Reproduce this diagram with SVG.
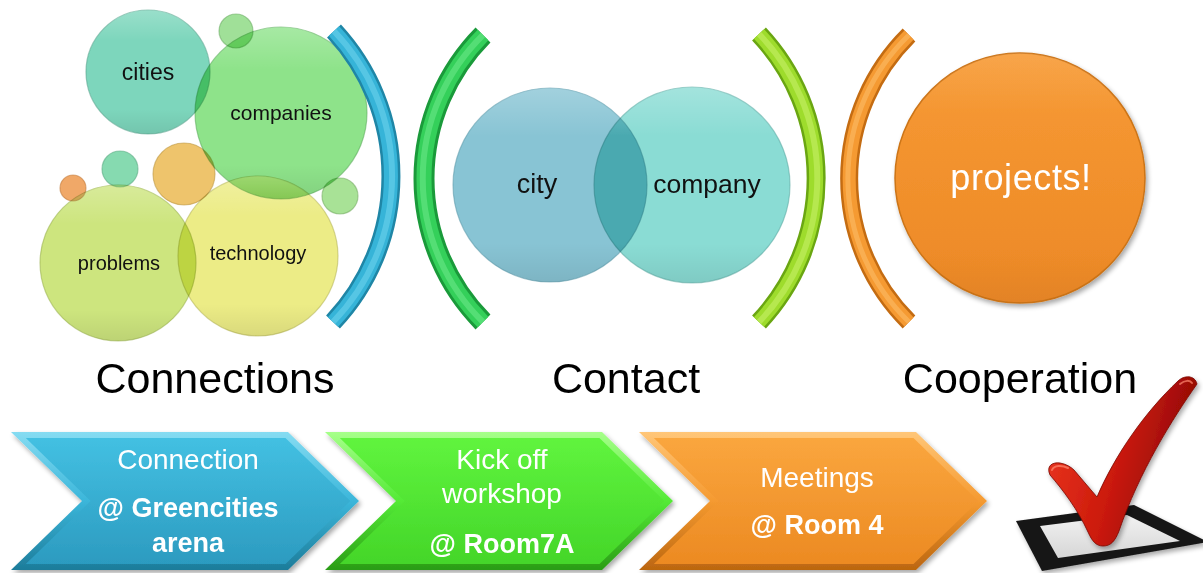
<svg xmlns="http://www.w3.org/2000/svg" width="1203" height="573" viewBox="0 0 1203 573">
<defs>
<style>
.bub{mix-blend-mode:multiply;stroke-width:1.2;stroke-opacity:0.55}
.lbl{font-family:"Liberation Sans",Arial,sans-serif;fill:#111;text-anchor:middle}
.big{font-family:"Liberation Sans",Arial,sans-serif;font-size:43px;fill:#000;text-anchor:middle}
.wt{font-family:"Liberation Sans",Arial,sans-serif;fill:#fff;text-anchor:middle;font-size:28px}
.wb{font-family:"Liberation Sans",Arial,sans-serif;fill:#fff;text-anchor:middle;font-size:27px;font-weight:bold}
.arc{fill:none;stroke-linecap:butt}
</style>
<filter id="sh" x="-10%" y="-10%" width="130%" height="140%">
<feGaussianBlur in="SourceAlpha" stdDeviation="2.5"/>
<feOffset dx="1.5" dy="3" result="b"/>
<feComponentTransfer><feFuncA type="linear" slope="0.35"/></feComponentTransfer>
<feMerge><feMergeNode/><feMergeNode in="SourceGraphic"/></feMerge>
</filter>
<linearGradient id="gloss" x1="0" y1="0" x2="0" y2="1">
<stop offset="0" stop-color="#fff" stop-opacity="0.22"/>
<stop offset="0.25" stop-color="#fff" stop-opacity="0"/>
<stop offset="0.8" stop-color="#000" stop-opacity="0"/>
<stop offset="1" stop-color="#000" stop-opacity="0.08"/>
</linearGradient>
<linearGradient id="gProj" x1="0" y1="0" x2="0" y2="1">
<stop offset="0" stop-color="#f79a34"/>
<stop offset="1" stop-color="#ec8826"/>
</linearGradient>
<linearGradient id="bE" x1="0" y1="0" x2="0" y2="1"><stop offset="0" stop-color="#86dcf2"/><stop offset="0.5" stop-color="#3bb6da"/><stop offset="1" stop-color="#1d7c9a"/></linearGradient>
<linearGradient id="bM" x1="0" y1="0" x2="0" y2="1"><stop offset="0" stop-color="#43c0e2"/><stop offset="1" stop-color="#2c9bc0"/></linearGradient>
<linearGradient id="gE" x1="0" y1="0" x2="0" y2="1"><stop offset="0" stop-color="#a6ff8a"/><stop offset="0.5" stop-color="#54ea36"/><stop offset="1" stop-color="#2a9c16"/></linearGradient>
<linearGradient id="gM" x1="0" y1="0" x2="0" y2="1"><stop offset="0" stop-color="#60f43e"/><stop offset="1" stop-color="#44d629"/></linearGradient>
<linearGradient id="oE" x1="0" y1="0" x2="0" y2="1"><stop offset="0" stop-color="#ffc678"/><stop offset="0.5" stop-color="#f59a30"/><stop offset="1" stop-color="#bb6610"/></linearGradient>
<linearGradient id="oM" x1="0" y1="0" x2="0" y2="1"><stop offset="0" stop-color="#faa63e"/><stop offset="1" stop-color="#ec8a22"/></linearGradient>
<linearGradient id="red" x1="0" y1="0" x2="1" y2="0.3">
<stop offset="0" stop-color="#ee3a22"/>
<stop offset="0.55" stop-color="#cc1a0c"/>
<stop offset="1" stop-color="#8e0804"/>
</linearGradient>
<linearGradient id="boxIn" x1="0" y1="0" x2="0" y2="1"><stop offset="0" stop-color="#f2f2f2"/><stop offset="1" stop-color="#d6d6d6"/></linearGradient>
<polygon id="chevO" points="11,432 288,432 359,501 288,570 11,570 82,501"/>
<polygon id="chevI" points="25.8,438 285.5,438 350.3,501 285.5,564 25.8,564 90.6,501"/>
</defs>

<rect width="1203" height="573" fill="#fff"/>

<!-- left cluster -->
<g id="node-cities"><circle class="bub" cx="148" cy="72" r="62" fill="#7dd6bc" stroke="#4f9e86"/><circle cx="148" cy="72" r="62" fill="url(#gloss)"/><text class="lbl" x="148" y="80" font-size="23">cities</text></g>
<g id="node-companies"><circle class="bub" cx="281" cy="113" r="86" fill="#8ee38a" stroke="#58a858"/><circle cx="281" cy="113" r="86" fill="url(#gloss)"/><text class="lbl" x="281" y="120" font-size="21">companies</text></g>
<g id="bubble-top"><circle class="bub" cx="236" cy="31" r="17" fill="#a0e098" stroke="#6aaa62"/></g>
<g id="bubble-left"><circle class="bub" cx="120" cy="169" r="18" fill="#86dab0" stroke="#58a880"/></g>
<g id="bubble-orange"><circle class="bub" cx="73" cy="188" r="13" fill="#f0a868" stroke="#c07838"/></g>
<g id="bubble-tan"><circle class="bub" cx="184" cy="174" r="31" fill="#eec46c" stroke="#b8923a"/></g>
<g id="bubble-right"><circle class="bub" cx="340" cy="196" r="18" fill="#a8e296" stroke="#72aa60"/></g>
<g id="node-problems"><circle class="bub" cx="118" cy="263" r="78" fill="#cde57e" stroke="#98ae4a"/><circle cx="118" cy="263" r="78" fill="url(#gloss)"/><text class="lbl" x="119" y="270" font-size="20">problems</text></g>
<g id="node-technology"><circle class="bub" cx="258" cy="256" r="80" fill="#ecec86" stroke="#b2b254"/><circle cx="258" cy="256" r="80" fill="url(#gloss)"/><text class="lbl" x="258" y="260" font-size="20">technology</text></g>

<!-- brackets -->
<g id="brackets">
<g id="arc-blue"><path class="arc" d="M334,31 A213,213 0 0 1 333,322" stroke="#1f86a6" stroke-width="19"/><path class="arc" d="M334,31 A213,213 0 0 1 333,322" stroke="#36b4d8" stroke-width="14"/><path class="arc" d="M334,31 A210,210 0 0 1 333,322" stroke="#7fdcf4" stroke-width="6" stroke-opacity="0.45"/></g>
<g id="arc-green"><path class="arc" d="M483,35 A204,204 0 0 0 483,322" stroke="#1a9a3a" stroke-width="21"/><path class="arc" d="M483,35 A204,204 0 0 0 483,322" stroke="#34d05a" stroke-width="15"/><path class="arc" d="M483,35 A201,201 0 0 0 483,322" stroke="#7cf096" stroke-width="6" stroke-opacity="0.45"/></g>
<g id="arc-lime"><path class="arc" d="M759,34 A210,210 0 0 1 759,322" stroke="#6aa612" stroke-width="19"/><path class="arc" d="M759,34 A210,210 0 0 1 759,322" stroke="#9edc2c" stroke-width="14"/><path class="arc" d="M759,34 A207,207 0 0 1 759,322" stroke="#d2f67a" stroke-width="6" stroke-opacity="0.45"/></g>
<g id="arc-orange"><path class="arc" d="M909,35 A202,202 0 0 0 909,322" stroke="#c46c12" stroke-width="18"/><path class="arc" d="M909,35 A202,202 0 0 0 909,322" stroke="#f59a32" stroke-width="13"/><path class="arc" d="M909,35 A199,199 0 0 0 909,322" stroke="#ffc878" stroke-width="5" stroke-opacity="0.45"/></g>
</g>

<!-- middle venn -->
<g id="node-city"><circle class="bub" cx="550" cy="185" r="97" fill="#88c4d4" stroke="#5a98a8"/><circle cx="550" cy="185" r="97" fill="url(#gloss)"/><text class="lbl" x="537" y="193" font-size="27">city</text></g>
<g id="node-company"><circle class="bub" cx="692" cy="185" r="98" fill="#8adcd4" stroke="#5aa8a0"/><circle cx="692" cy="185" r="98" fill="url(#gloss)"/><text class="lbl" x="707" y="193" font-size="26.5">company</text></g>

<!-- projects -->
<g id="node-projects" filter="url(#sh)"><circle cx="1020" cy="178" r="125" fill="url(#gProj)" stroke="#cc7418" stroke-width="1.5"/><circle cx="1020" cy="178" r="125" fill="url(#gloss)" opacity="0.5"/><text x="1021" y="190" font-family="Liberation Sans, Arial, sans-serif" font-size="36" fill="#fff" text-anchor="middle" letter-spacing="0.6">projects!</text></g>

<!-- headings -->
<g id="headings">
<text class="big" x="215" y="393">Connections</text>
<text class="big" x="626" y="393">Contact</text>
<text class="big" x="1020" y="393">Cooperation</text>
</g>

<!-- chevrons -->
<g id="step-connection" filter="url(#sh)">
<use href="#chevO" fill="url(#bE)"/><use href="#chevI" fill="url(#bM)"/>
<text class="wt" x="188" y="469">Connection</text>
<text class="wb" x="188" y="517">@ Greencities</text>
<text class="wb" x="188" y="552">arena</text>
</g>
<g id="step-kickoff" filter="url(#sh)">
<use href="#chevO" fill="url(#gE)" transform="translate(314,0)"/><use href="#chevI" fill="url(#gM)" transform="translate(314,0)"/>
<text class="wt" x="502" y="469">Kick off</text>
<text class="wt" x="502" y="503">workshop</text>
<text class="wb" x="502" y="553">@ Room7A</text>
</g>
<g id="step-meetings" filter="url(#sh)">
<use href="#chevO" fill="url(#oE)" transform="translate(628,0)"/><use href="#chevI" fill="url(#oM)" transform="translate(628,0)"/>
<text class="wt" x="817" y="487">Meetings</text>
<text class="wb" x="817" y="534">@ Room 4</text>
</g>

<!-- checkmark -->
<g id="checkmark">
<polygon points="1016,521 1134,505 1208,542 1042,571" fill="#151515" filter="url(#sh)"/>
<polygon points="1040,526 1127,515 1180,541 1058,558" fill="url(#boxIn)"/>
<path d="M1050,475 C1046,466 1052,462 1060,463 C1066,464 1071,467 1074,470 L1097,497 C1115,455 1145,412 1178,381 C1184,375 1195,375 1197,384 C1173,418 1139,472 1119,531 C1115,541 1111,546 1103,546 C1096,546 1092,541 1088,532 C1078,510 1063,490 1050,475 Z" fill="url(#red)" stroke="#7a0602" stroke-width="0.8" filter="url(#sh)"/>
<path d="M1052,470 C1054,465 1062,465 1068,468" fill="none" stroke="#ff8a70" stroke-width="2" stroke-linecap="round" opacity="0.7"/>
<path d="M1180,384 C1185,380 1190,380 1192,383" fill="none" stroke="#ff8a70" stroke-width="2" stroke-linecap="round" opacity="0.7"/>
</g>
</svg>
